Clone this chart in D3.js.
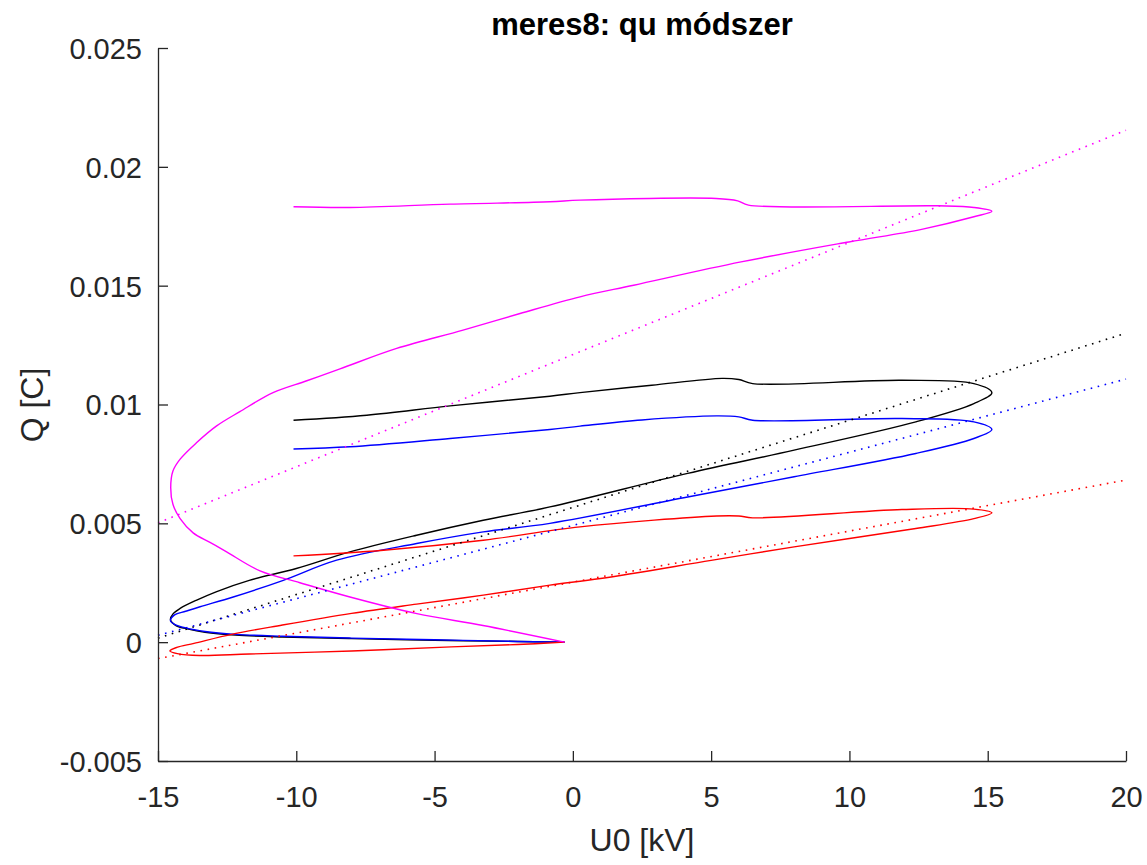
<!DOCTYPE html>
<html>
<head>
<meta charset="utf-8">
<script src="https://cdn.jsdelivr.net/npm/d3@7"></script>
<style>
  body { margin: 0; background: #fff; }
  svg { display: block; font-family: "Liberation Sans", Arial, sans-serif; }
</style>
</head>
<body>
<svg id="chart" width="1147" height="865"></svg>
<script>
// measured loops, U0 [kV] vs Q [C]
var blackU = [-0.3, -2, -5, -8, -10.5, -12.2, -13.3, -13.9, -14.35, -14.55, -14.45, -14.2, -13.6, -12.9, -11.7, -10, -8.06, -5.65, -3.24, -0.83, 4.15, 8, 12.4, 14.5, 15.15, 14.5, 11.9, 6.5, 6, 5.4, 2.85, 0.26, -0.83, -4.44, -7.45, -10.1];
var blackQ = [0, 0.00003, 0.00008, 0.00015, 0.00022, 0.0003, 0.00042, 0.00055, 0.0007, 0.00095, 0.0012, 0.00142, 0.00177, 0.00212, 0.0026, 0.0031, 0.0038, 0.0045, 0.00513, 0.00569, 0.0071, 0.00808, 0.00927, 0.01004, 0.0105, 0.01088, 0.01102, 0.01088, 0.01105, 0.0111, 0.01081, 0.0105, 0.01035, 0.00994, 0.00955, 0.00934];

var blueU = [-0.3, -2, -5, -8, -10.5, -12.2, -13.3, -14, -14.4, -14.55, -14.4, -14, -13.48, -12.28, -10.47, -8.54, -5.65, -3.24, -0.83, 4.15, 8, 12.4, 14.5, 15.15, 14.5, 11.9, 6.5, 6, 5.2, 2.5, 0.26, -0.83, -4.44, -8.06, -10.1];
var blueQ = [0, 0.00003, 0.0001, 0.00017, 0.00025, 0.00033, 0.00045, 0.0006, 0.00075, 0.0009, 0.00115, 0.0013, 0.00149, 0.0019, 0.0026, 0.00345, 0.00415, 0.00464, 0.005, 0.00611, 0.00696, 0.00794, 0.00857, 0.00895, 0.00927, 0.00941, 0.00934, 0.00948, 0.00952, 0.00935, 0.00909, 0.00895, 0.00857, 0.00822, 0.00813];

var redU = [-0.3, -2, -4.4, -8, -11.7, -13.5, -14.3, -14.57, -14.32, -13.7, -12.3, -10.5, -8, -5.65, -3.24, -0.83, 1, 5, 8, 12.4, 14.5, 15.15, 14.5, 11.9, 6.5, 6, 5.2, 0.26, -3.24, -6.85, -10.1];
var redQ = [0, -0.0001, -0.0002, -0.00037, -0.0005, -0.00056, -0.00048, -0.00037, -0.00022, -0.00005, 0.00034, 0.00072, 0.00121, 0.0016, 0.00198, 0.0024, 0.00268, 0.00344, 0.00401, 0.00478, 0.0052, 0.00544, 0.0056, 0.00558, 0.00523, 0.00531, 0.00531, 0.00485, 0.00429, 0.00387, 0.00363];

var magentaU = [-0.3, -3.25, -5.64, -8.06, -9.87, -11.31, -12.52, -13.12, -13.73, -14.2, -14.46, -14.54, -14.46, -14.2, -13.6, -12.88, -12.04, -10.84, -9.62, -8.42, -6.37, -3.97, -1.91, 0.26, 2.2, 6.08, 9.98, 12.57, 14.5, 15.15, 14.5, 13.2, 6.35, 5.96, 5.18, 0.26, -0.83, -4.44, -8.06, -10.1];
var magentaQ = [0, 0.0007, 0.0012, 0.0019, 0.0025, 0.003, 0.0038, 0.0042, 0.0046, 0.0052, 0.0058, 0.0065, 0.0072, 0.0077, 0.0084, 0.0091, 0.0097, 0.0105, 0.011, 0.0115, 0.01236, 0.01313, 0.01383, 0.01453, 0.01502, 0.016, 0.01684, 0.01736, 0.0179, 0.01813, 0.01829, 0.01836, 0.01839, 0.01857, 0.01867, 0.0186, 0.01853, 0.01843, 0.01829, 0.01832];

// fitted lines, Q at U0 = -15 and U0 = 20
var fitU = [-15, 20];
var fitBlack = [0.00017, 0.0130];
var fitBlue = [0.00029, 0.01107];
var fitRed = [-0.00069, 0.00682];
var fitMagenta = [0.00502, 0.02154];

var xTicks = [-15, -10, -5, 0, 5, 10, 15, 20];
var yTicks = [-0.005, 0, 0.005, 0.01, 0.015, 0.02, 0.025];

var svg = d3.select('#chart');
var axisColor = '#262626';

var x = d3.scaleLinear().domain([-15, 20]).range([158, 1126]);
var y = d3.scaleLinear().domain([-0.005, 0.025]).range([761, 48]);

var line = d3.line()
  .x(function(d) { return x(d[0]); })
  .y(function(d) { return y(d[1]); })
  .curve(d3.curveCatmullRom.alpha(0.5));

var zip = function(u, q) { return u.map(function(v, i) { return [v, q[i]]; }); };

var loops = [
  {u: blackU, q: blackQ, color: '#000000'},
  {u: blueU, q: blueQ, color: '#0000ff'},
  {u: redU, q: redQ, color: '#ff0000'},
  {u: magentaU, q: magentaQ, color: '#ff00ff'}
];

loops.forEach(function(s) {
  svg.append('path')
    .attr('d', line(zip(s.u, s.q)))
    .attr('fill', 'none')
    .attr('stroke', s.color)
    .attr('stroke-width', 1.4)
    .attr('stroke-linejoin', 'round');
});

var fits = [
  {q: fitBlack, color: '#000000'},
  {q: fitBlue, color: '#0000ff'},
  {q: fitRed, color: '#ff0000'},
  {q: fitMagenta, color: '#ff00ff'}
];

fits.forEach(function(f) {
  svg.append('path')
    .attr('d', d3.line().x(function(d) { return x(d[0]); }).y(function(d) { return y(d[1]); })(zip(fitU, f.q)))
    .attr('fill', 'none')
    .attr('stroke', f.color)
    .attr('stroke-width', 1.6)
    .attr('stroke-dasharray', '1.6,5.6');
});

// axes, ticks pointing inward like matlab
var xAxis = svg.append('g')
  .attr('transform', 'translate(0,' + y(-0.005) + ')')
  .call(d3.axisBottom(x).tickValues(xTicks).tickSizeInner(-10).tickSizeOuter(0).tickPadding(25)
    .tickFormat(function(d) { return d3.format('d')(d).replace('−', '-'); }));

var yAxis = svg.append('g')
  .attr('transform', 'translate(' + x(-15) + ',0)')
  .call(d3.axisLeft(y).tickValues(yTicks).tickSizeInner(-10).tickSizeOuter(0).tickPadding(16)
    .tickFormat(function(d) { return d === 0 ? '0' : String(+d.toFixed(3)); }));

[xAxis, yAxis].forEach(function(g) {
  g.select('.domain').attr('stroke', axisColor).attr('stroke-width', 1.3);
  g.selectAll('.tick line').attr('stroke', axisColor).attr('stroke-width', 1.3);
  g.selectAll('.tick text')
    .attr('fill', axisColor)
    .style('font-family', '"Liberation Sans", Arial, sans-serif')
    .style('font-size', '29px');
});
yAxis.selectAll('.tick text').attr('dy', '0.36em');

svg.append('text')
  .attr('x', 642).attr('y', 35)
  .attr('text-anchor', 'middle')
  .style('font-size', '31px').style('font-weight', 'bold')
  .attr('fill', '#000')
  .text('meres8: qu módszer');

svg.append('text')
  .attr('x', 642).attr('y', 851)
  .attr('text-anchor', 'middle')
  .style('font-size', '32px')
  .attr('fill', axisColor)
  .text('U0 [kV]');

svg.append('text')
  .attr('transform', 'translate(43,405) rotate(-90)')
  .attr('text-anchor', 'middle')
  .style('font-size', '32px')
  .attr('fill', axisColor)
  .text('Q [C]');
</script>
</body>
</html>
